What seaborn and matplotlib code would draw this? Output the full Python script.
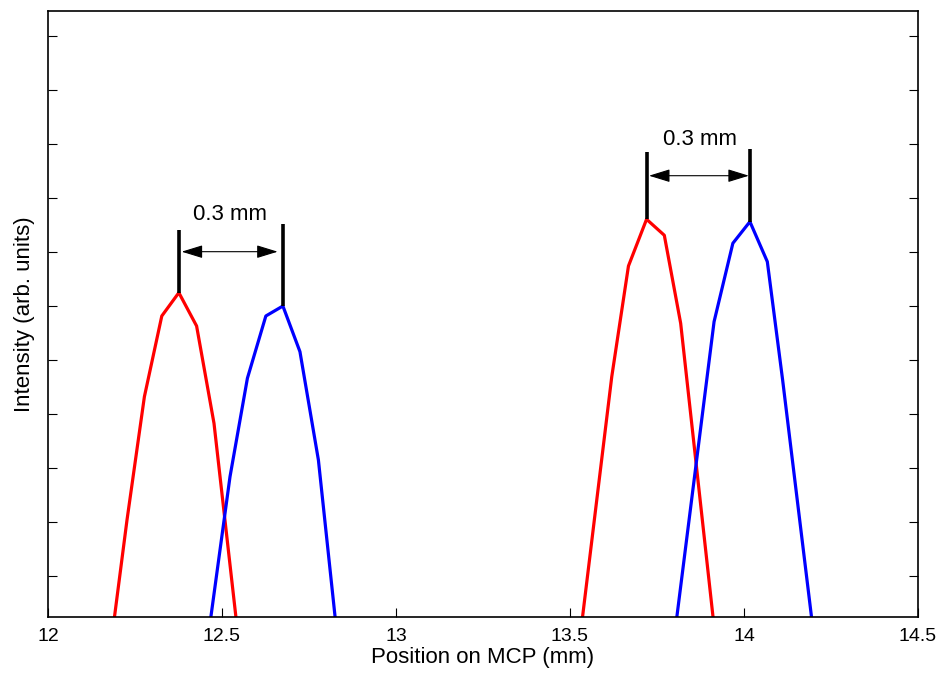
# Two pairs of peaks on the MCP, red and blue, 0.3 mm apart
import pandas as pd
import matplotlib
matplotlib.use('Agg')
import matplotlib.pyplot as plt
import seaborn as sns

# Data
red_left_x = [12.191, 12.227, 12.277, 12.327, 12.376, 12.427, 12.477, 12.540]
red_left_y = [0.235, 2.031, 4.315, 5.809, 6.241, 5.624, 3.822, 0.235]
blue_left_x = [12.468, 12.523, 12.573, 12.626, 12.675, 12.724, 12.777, 12.825]
blue_left_y = [0.235, 2.833, 4.656, 5.809, 5.994, 5.148, 3.143, 0.235]
red_right_x = [13.536, 13.620, 13.668, 13.720, 13.771, 13.818, 13.911]
red_right_y = [0.235, 4.685, 6.735, 7.600, 7.304, 5.674, 0.235]
blue_right_x = [13.807, 13.914, 13.968, 14.017, 14.067, 14.111, 14.194]
blue_right_y = [0.235, 5.704, 7.156, 7.556, 6.815, 4.624, 0.235]

# peak markers: x, bottom, top
marker_x = [12.376, 12.675, 13.720, 14.017]
marker_bottom = [6.241, 5.994, 7.600, 7.556]
marker_top = [7.402, 7.513, 8.852, 8.902]

# arrows between markers: x0, x1, y, label position
arrow_x0 = [12.384, 13.727]
arrow_x1 = [12.660, 14.014]
arrow_y = [7.0, 8.407]
label_x = [12.523, 13.874]
label_y = [7.68, 9.069]
label_text = ['0.3 mm', '0.3 mm']

x_ticks = [12, 12.5, 13, 13.5, 14, 14.5]
x_tick_labels = ['12', '12.5', '13', '13.5', '14', '14.5']
y_ticks = list(range(1, 12))

frames = []
for name, xs, ys in [('red_left', red_left_x, red_left_y),
                     ('blue_left', blue_left_x, blue_left_y),
                     ('red_right', red_right_x, red_right_y),
                     ('blue_right', blue_right_x, blue_right_y)]:
    frames.append(pd.DataFrame({'x': xs, 'y': ys, 'curve': name}))
df = pd.concat(frames, ignore_index=True)

sns.set_style('ticks')
plt.rcParams['font.family'] = ['Liberation Sans', 'DejaVu Sans']
plt.rcParams['text.color'] = 'black'
plt.rcParams['axes.labelcolor'] = 'black'
plt.rcParams['xtick.color'] = 'black'
plt.rcParams['ytick.color'] = 'black'

fig = plt.figure(figsize=(9.4, 6.75), dpi=100)
ax = fig.add_axes([48 / 940, 1 - 617 / 675, 870 / 940, 606 / 675])

palette = {'red_left': '#ff0000', 'blue_left': '#0000ff',
           'red_right': '#ff0000', 'blue_right': '#0000ff'}
sns.lineplot(data=df, x='x', y='y', hue='curve', units='curve', estimator=None,
             sort=False, palette=palette, linewidth=2.3, legend=False, ax=ax)

# black vertical markers at the peaks
for mx, mb, mt in zip(marker_x, marker_bottom, marker_top):
    ax.plot([mx, mx], [mb, mt], color='black', linewidth=2.6, solid_capstyle='butt')

# double arrows and labels
for x0, x1, y in zip(arrow_x0, arrow_x1, arrow_y):
    ax.annotate('', xy=(x0, y), xytext=(x1, y),
                arrowprops=dict(arrowstyle='<|-|>,head_length=1.3,head_width=0.4',
                                color='black', linewidth=0.8,
                                shrinkA=0, shrinkB=0))
for lx, ly, t in zip(label_x, label_y, label_text):
    ax.text(lx, ly, t, ha='center', va='center', fontsize=16)

ax.set_xlim(12, 14.5)
ax.set_ylim(0.235, 11.457)
ax.set_xticks(x_ticks)
ax.set_xticklabels(x_tick_labels)
ax.set_yticks(y_ticks)
ax.set_yticklabels([])
ax.tick_params(direction='in', length=6.5, width=0.8, top=False, right=True,
               labelsize=14, pad=8)
for side in ['left', 'right', 'top', 'bottom']:
    ax.spines[side].set_visible(True)
    ax.spines[side].set_linewidth(1.2)
    ax.spines[side].set_color('black')

ax.set_xlabel('Position on MCP (mm)', fontsize=16, labelpad=1)
ax.set_ylabel('Intensity (arb. units)', fontsize=16, labelpad=1)

plt.savefig('out.png', dpi=100)
